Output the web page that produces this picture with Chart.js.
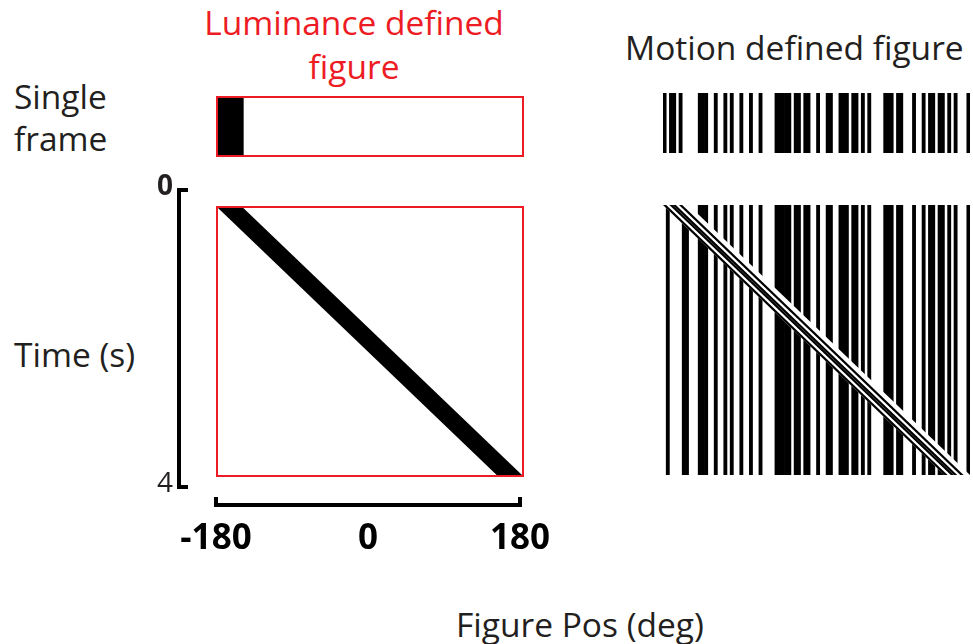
<!DOCTYPE html>
<html>
<head>
<meta charset="utf-8">
<script src="https://cdn.jsdelivr.net/npm/chart.js@4.4.1/dist/chart.umd.min.js"></script>
<style>
  html, body { margin: 0; padding: 0; background: #fff; }
  body { width: 973px; height: 644px; position: relative; overflow: hidden; font-family: 'Open Sans', sans-serif; }
  .lbl { position: absolute; font-size: 33.5px; line-height: 42px; color: #231f20; white-space: nowrap; }
  .box { position: absolute; }
  .frame { border: 2px solid #ed1c24; box-sizing: border-box; }
  canvas { display: block; }
</style>
</head>
<body>

<div class="lbl" style="left:154px;top:0;width:400px;text-align:center;color:#ed1c24;line-height:44px;">Luminance defined<br>figure</div>
<div class="lbl" style="left:625px;top:25px;line-height:44px;">Motion defined figure</div>
<div class="lbl" style="left:14px;top:75px;">Single<br>frame</div>
<div class="lbl" style="left:14px;top:333px;">Time (s)</div>
<div class="lbl" style="left:456px;top:603px;">Figure Pos (deg)</div>

<div class="box frame" style="left:216px;top:96px;width:308px;height:61px;"><canvas id="lumFrame" width="304" height="57"></canvas></div>
<div class="box frame" style="left:216px;top:206px;width:308px;height:271px;"><canvas id="lumMain" width="304" height="267"></canvas></div>
<div class="box" style="left:663px;top:93px;"><canvas id="motionFrame" width="307" height="60"></canvas></div>
<div class="box" style="left:663px;top:205px;"><canvas id="motionMain" width="307" height="270"></canvas></div>
<div class="box" style="left:120px;top:160px;"><canvas id="timeAxis" width="80" height="345"></canvas></div>
<div class="box" style="left:160px;top:460px;"><canvas id="posAxis" width="410" height="110"></canvas></div>

<script>
/* ── Data ── */
const posRange  = [-180, 180];   // deg
const timeRange = [0, 4];        // s
const colWidth  = 3.75;          // deg per display column (96 columns)
const xTicks    = [-180, 0, 180];
const yTicks    = [0, 4];

// figure left edge at t = 0 and t = 4, and its width
const figLeft  = [-180, 150];
const figWidth = 30;

// motion defined stimulus: static background, 1 = dark column
const bgColumns = [
  0,1,0,0,0,0,1,1,0,0,
  0,1,1,1,0,0,1,0,0,1,
  0,1,0,0,1,0,0,1,0,0,
  1,0,0,0,0,1,1,1,1,1,
  0,1,1,0,1,1,0,0,1,0,
  0,1,1,0,0,1,1,1,0,1,
  1,0,1,0,1,0,0,0,0,1,
  1,1,0,1,1,0,0,0,1,0,
  0,1,0,1,1,0,1,1,0,1,
  0,1,0,0,0,1
];
// texture carried along by the figure (8 columns)
const figTexture = [1,0,1,1,0,1,0,0];

/* ── Helpers ── */
const FONT = "'Open Sans', sans-serif";
const figTravel = figLeft[1] - figLeft[0];

const baseOptions = {
  responsive: false,
  animation: false,
  devicePixelRatio: 1,
  events: [],
  layout: { padding: 0 },
  plugins: { legend: { display: false }, tooltip: { enabled: false } }
};

const panelScales = (tMax) => ({
  x: { type: 'linear', min: posRange[0], max: posRange[1], offset: false, display: false },
  y: { type: 'linear', min: timeRange[0], max: tMax, reverse: true, offset: false, display: false }
});

const lineBase = { type: 'line', indexAxis: 'y', borderWidth: 0, borderColor: 'rgba(0,0,0,0)',
                   pointRadius: 0, pointHitRadius: 0, tension: 0, clip: 0 };

// a moving strip between two edges: filled parallelogram
function strip(x0, x1, color, order) {
  const edge = x => [{ x: x, y: timeRange[0] }, { x: x + figTravel, y: timeRange[1] }];
  return [
    { ...lineBase, data: edge(x0), fill: false, order },
    { ...lineBase, data: edge(x1), fill: '-1', backgroundColor: color, order }
  ];
}

const colCenter = i => posRange[0] + colWidth * (i + 0.5);
const columnBars = (cols, t0, t1) =>
  cols.map((v, i) => v ? { x: colCenter(i), y: [t0, t1] } : null).filter(Boolean);

const barBase = { type: 'bar', backgroundColor: '#000', borderWidth: 0,
                  barPercentage: 1, categoryPercentage: 1, order: 3 };

// keep bracket axes glued to the chart area (no label padding)
const noPad = s => { s.paddingLeft = s.paddingRight = s.paddingTop = s.paddingBottom = 0; };

/* ── Luminance: single frame ── */
new Chart(document.getElementById('lumFrame'), {
  type: 'bar',
  data: {
    labels: ['frame'],
    datasets: [{ data: [[figLeft[0], figLeft[0] + figWidth]], backgroundColor: '#000',
                 borderWidth: 0, barPercentage: 1, categoryPercentage: 1 }]
  },
  options: { ...baseOptions, indexAxis: 'y',
    scales: {
      x: { type: 'linear', min: posRange[0], max: posRange[1], offset: false, display: false },
      y: { display: false }
    } }
});

/* ── Luminance: space-time ── */
new Chart(document.getElementById('lumMain'), {
  type: 'line',
  data: { datasets: strip(figLeft[0], figLeft[0] + figWidth, '#000', 1) },
  options: { ...baseOptions, indexAxis: 'y', scales: panelScales(timeRange[1]) }
});

/* ── Motion: single frame ── */
const frameColumns = bgColumns.map((v, i) => i < figTexture.length ? figTexture[i] : v);
new Chart(document.getElementById('motionFrame'), {
  type: 'bar',
  data: { datasets: [{ ...barBase, data: columnBars(frameColumns, 0, 1) }] },
  options: { ...baseOptions, scales: panelScales(1) }
});

/* ── Motion: space-time ── */
const motionSets = [{ ...barBase, data: columnBars(bgColumns, timeRange[0], timeRange[1]) }];
motionSets.push(...strip(figLeft[0], figLeft[0] + figWidth, '#fff', 2));
figTexture.forEach((v, j) => {
  if (!v) return;
  const x0 = figLeft[0] + j * colWidth;
  motionSets.push(...strip(x0, x0 + colWidth, '#000', 1));
});
new Chart(document.getElementById('motionMain'), {
  type: 'bar',
  data: { datasets: motionSets },
  options: { ...baseOptions, scales: panelScales(timeRange[1]) }
});

/* ── Time axis (bracket) ── */
new Chart(document.getElementById('timeAxis'), {
  type: 'line',
  data: { datasets: [] },
  options: { ...baseOptions,
    layout: { padding: { top: 30, bottom: 18, left: 0, right: 0 } },
    scales: {
      x: { type: 'linear', min: posRange[0], max: posRange[1], display: false },
      y: { type: 'linear', min: timeRange[0], max: timeRange[1], reverse: true,
        afterBuildTicks: s => { s.ticks = yTicks.map(v => ({ value: v })); },
        afterFit: s => { s.width = 59; noPad(s); },
        border: { display: true, color: '#000', width: 4 },
        grid: { drawOnChartArea: false, tickLength: -9, tickWidth: 4, lineWidth: 4, tickColor: '#000' },
        ticks: { color: '#231f20', padding: 15, labelOffset: -3,
          font: c => ({ family: FONT, size: 28, weight: c.tick && c.tick.value === 0 ? 'bold' : 'normal' }) }
      }
    } }
});

/* ── Position axis (bracket) ── */
new Chart(document.getElementById('posAxis'), {
  type: 'line',
  data: { datasets: [] },
  options: { ...baseOptions,
    layout: { padding: { top: 10, bottom: 0, left: 56, right: 50 } },
    scales: {
      y: { type: 'linear', min: 0, max: 1, display: false },
      x: { type: 'linear', min: posRange[0], max: posRange[1], position: 'bottom',
        afterBuildTicks: s => { s.ticks = xTicks.map(v => ({ value: v })); },
        afterFit: s => { s.height = 65; noPad(s); },
        border: { display: true, color: '#000', width: 4 },
        grid: { drawOnChartArea: false, tickLength: -8, tickWidth: 4, lineWidth: 4,
          tickColor: c => (c.tick && c.tick.value === 0) ? 'rgba(0,0,0,0)' : '#000' },
        ticks: { color: '#000', padding: 21, autoSkip: false, maxRotation: 0,
          font: { family: FONT, size: 35, weight: 'bold' } }
      }
    } }
});
</script>
</body>
</html>
